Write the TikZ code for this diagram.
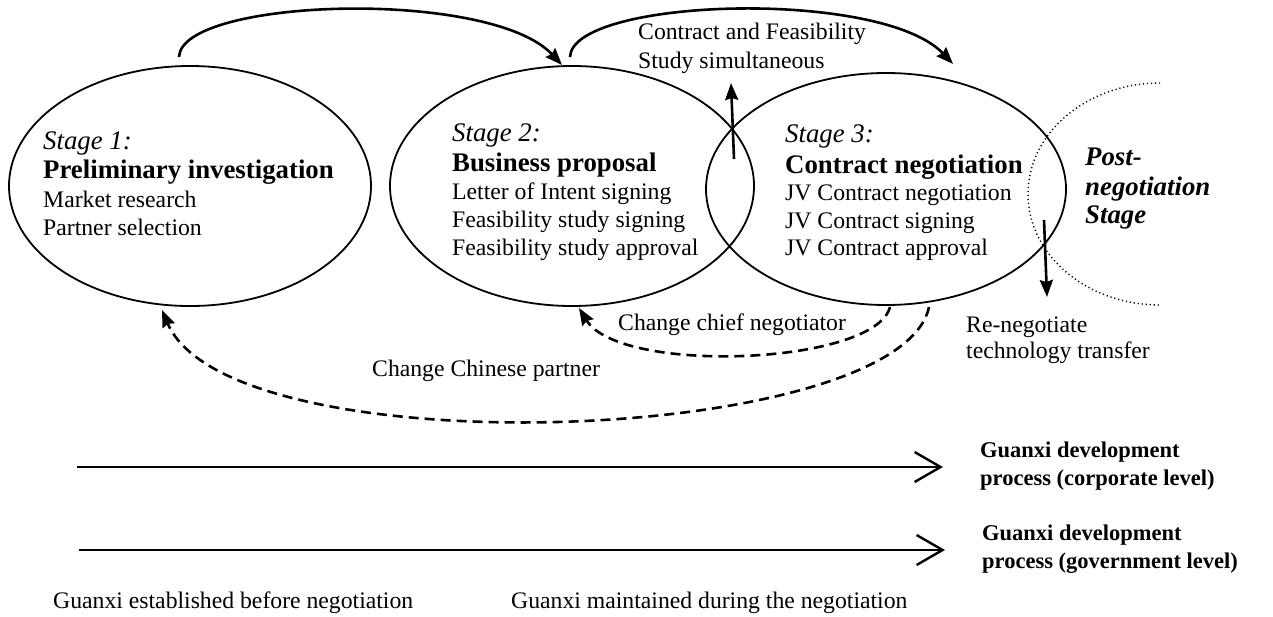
\documentclass[tikz,border=0pt]{standalone}
\usepackage{fontspec}
\setmainfont{Liberation Serif}
\usetikzlibrary{shapes.geometric,arrows.meta}

\begin{document}
\begin{tikzpicture}[x=1pt,y=-1pt,
  stage/.style={draw, ellipse, line width=1.8pt, inner sep=0pt},
  txt/.style={anchor=base west, inner sep=0pt, font=\fontsize{23.7}{28}\selectfont},
  head/.style={anchor=base west, inner sep=0pt, font=\fontsize{26.8}{30}\selectfont\bfseries},
  headit/.style={anchor=base west, inner sep=0pt, font=\fontsize{26.8}{30}\selectfont\itshape},
  postit/.style={anchor=base west, inner sep=0pt, font=\fontsize{26.8}{30}\selectfont\bfseries\itshape},
  glabel/.style={anchor=base west, inner sep=0pt, font=\fontsize{22.5}{26}\selectfont\bfseries},
  flow/.style={line width=2.6pt, -{Stealth[length=17pt,width=13pt,inset=2pt]}},
  back/.style={flow, dash pattern=on 10pt off 6pt},
  timeline/.style={line width=2.6pt, -{Straight Barb[length=26pt,width=30pt,line width=2.4pt]}},
  dots/.style={line width=1.4pt, dash pattern=on 1.2pt off 2.8pt}
]
\useasboundingbox (0,0) rectangle (1273,616);

% the three negotiation stages
\node[stage, minimum width=362pt, minimum height=240pt] (e1) at (190,186) {};
\node[stage, minimum width=364pt, minimum height=240pt] (e2) at (572,186) {};
\node[stage, minimum width=360pt, minimum height=232pt] (e3) at (886,189) {};

% post-negotiation stage boundary
\draw[dots] (1160,83) arc[start angle=90, end angle=270, x radius=132pt, y radius=111pt];

% stage texts
\node[headit] (s1a) at (43,149) {Stage 1:};
\node[head]   (s1b) at (43,178) {Preliminary investigation};
\node[txt]    (s1c) at (43,207) {Market research};
\node[txt]    (s1d) at (43,235) {Partner selection};

\node[headit] (s2a) at (452,141) {Stage 2:};
\node[head]   (s2b) at (452,171) {Business proposal};
\node[txt]    (s2c) at (452,199) {Letter of Intent signing};
\node[txt]    (s2d) at (452,227) {Feasibility study signing};
\node[txt]    (s2e) at (452,255) {Feasibility study approval};

\node[headit] (s3a) at (785,142) {Stage 3:};
\node[head]   (s3b) at (785,173) {Contract negotiation};
\node[txt]    (s3c) at (785,200) {JV Contract negotiation};
\node[txt]    (s3d) at (785,228) {JV Contract signing};
\node[txt]    (s3e) at (785,255) {JV Contract approval};

\node[postit] (p1) at (1085,165) {Post-};
\node[postit] (p2) at (1085,195) {negotiation};
\node[postit] (p3) at (1085,223) {Stage};

% forward arrows between stages
\coordinate (a1s) at (179,57);
\coordinate (a1e) at (562,65);
\coordinate (a2s) at (570,57);
\coordinate (a2e) at (953,64);
\draw[flow] (a1s) .. controls (181,-2) and (490,-12) .. (a1e);
\draw[flow] (a2s) .. controls (572,-2) and (881,-12) .. (a2e);

\node[txt] (cf1) at (638,39) {Contract and Feasibility};
\node[txt] (cf2) at (638,68) {Study simultaneous};

\coordinate (upS) at (734,159);
\coordinate (upE) at (731,83);
\draw[flow] (upS) -- (upE);

\coordinate (dnS) at (1044,220);
\coordinate (dnE) at (1047,297);
\draw[flow] (dnS) -- (dnE);

\node[txt] (rn1) at (966,332) {Re-negotiate};
\node[txt] (rn2) at (966,358) {technology transfer};

% backward (dashed) arrows
\coordinate (b1s) at (890,307);
\coordinate (b1e) at (579,308);
\coordinate (b2s) at (929,307);
\coordinate (b2e) at (162,310);
\draw[back] (b1s) .. controls (875,365) and (620,375) .. (b1e);
\draw[back] (b2s) .. controls (900,445) and (230,470) .. (b2e);

\node[txt] (cc) at (618,330) {Change chief negotiator};
\node[txt] (cp) at (372,376) {Change Chinese partner};

% guanxi development timelines
\coordinate (t1s) at (77,467);
\coordinate (t1e) at (943,467);
\coordinate (t2s) at (79,550);
\coordinate (t2e) at (945,550);
\draw[timeline] (t1s) -- (t1e);
\draw[timeline] (t2s) -- (t2e);

\node[glabel] (g1a) at (980,457) {Guanxi development};
\node[glabel] (g1b) at (980,485) {process (corporate level)};
\node[glabel] (g2a) at (982,540) {Guanxi development};
\node[glabel] (g2b) at (982,568) {process (government level)};

\node[txt] (bl1) at (53,608) {Guanxi established before negotiation};
\node[txt] (bl2) at (511,608) {Guanxi maintained during the negotiation};
\end{tikzpicture}
\end{document}
